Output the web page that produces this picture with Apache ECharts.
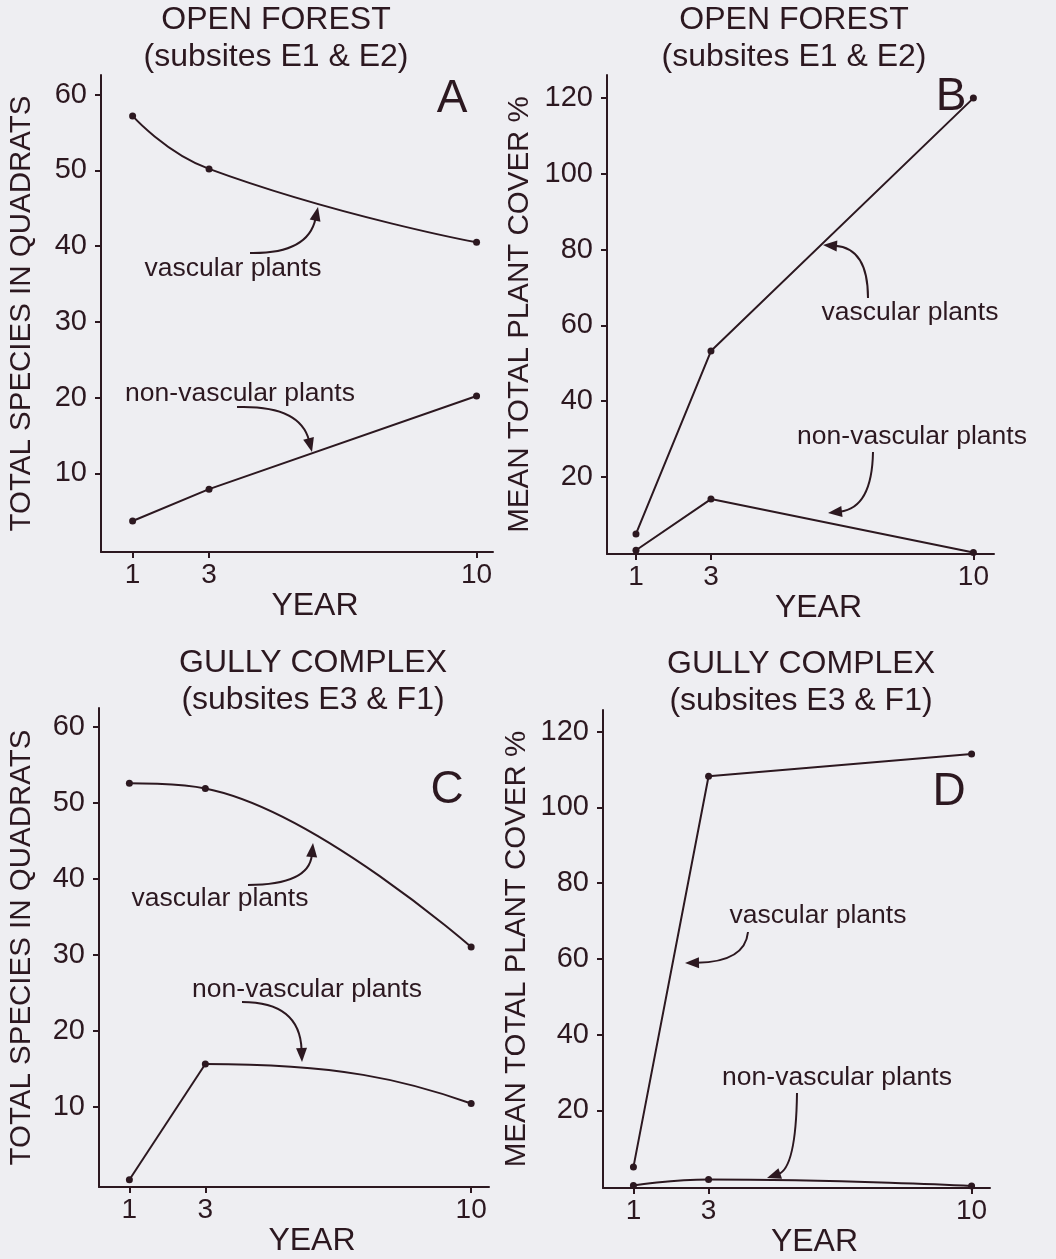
<!DOCTYPE html>
<html><head><meta charset="utf-8">
<script src="https://cdn.jsdelivr.net/npm/echarts@6/dist/echarts.min.js"></script>
<style>html,body{margin:0;padding:0;background:#eeeef2}#c{width:1056px;height:1259px}</style>
</head><body><div id="c"></div>
<script>
// ---- data ----
const years = [1, 3, 10];
const xTicks = [1, 3, 10];
const speciesTicks = [10, 20, 30, 40, 50, 60];
const coverTicks = [20, 40, 60, 80, 100, 120];
const openSpeciesVascular = [57.2, 50.2, 40.5];
const openSpeciesNonVascular = [3.7, 7.9, 20.2];
const openCoverVascular = [4.9, 53.2, 120];
const openCoverNonVascular = [0.6, 14.1, 0];
const gullySpeciesVascular = [52.6, 51.9, 31.0];
const gullySpeciesNonVascular = [0.35, 15.6, 10.4];
const gullyCoverVascular = [5.0, 108.2, 114.1];
const gullyCoverNonVascular = [0.15, 1.7, 0];
const titlesLine1 = ['OPEN FOREST', 'OPEN FOREST', 'GULLY COMPLEX', 'GULLY COMPLEX'];
const titlesLine2 = ['(subsites E1 & E2)', '(subsites E1 & E2)', '(subsites E3 & F1)', '(subsites E3 & F1)'];
const panelLetters = ['A', 'B', 'C', 'D'];
const yNames = ['TOTAL SPECIES IN QUADRATS', 'MEAN TOTAL PLANT COVER %', 'TOTAL SPECIES IN QUADRATS', 'MEAN TOTAL PLANT COVER %'];
const labelVascular = 'vascular plants';
const labelNonVascular = 'non-vascular plants';

// ---- layout / style ----
const INK = '#2c1820';
const FONT = '"Liberation Sans", Arial, Helvetica, sans-serif';
const grids = [
  {left: 101, top: 75, width: 392, height: 477},
  {left: 607, top: 75, width: 387, height: 479},
  {left: 99, top: 708, width: 390, height: 479},
  {left: 603, top: 710, width: 387, height: 481}
];
const xRanges = [[0.173, 10.43], [0.227, 10.55], [0.2, 10.47], [0.19, 10.49]];
const yRanges = [[-0.4, 62.6], [-0.4, 126.1], [-0.6, 62.5], [-0.55, 125.7]];
const yNameGaps = [64, 72, 62, 71];

function xAx(i) {
  return {
    gridIndex: i, type: 'value', min: xRanges[i][0], max: xRanges[i][1],
    name: 'YEAR', nameLocation: 'middle', nameGap: 33,
    nameTextStyle: {fontSize: 32, color: INK, fontFamily: FONT, padding: [0, 0, 0, 36]},
    axisLine: {show: true, onZero: false, lineStyle: {color: INK, width: 2}},
    axisTick: {show: true, customValues: xTicks, length: 6, lineStyle: {color: INK, width: 2}},
    axisLabel: {customValues: xTicks, fontSize: 28, color: INK, fontFamily: FONT, margin: 9},
    splitLine: {show: false}
  };
}
function yAx(i, ticks) {
  return {
    gridIndex: i, type: 'value', min: yRanges[i][0], max: yRanges[i][1],
    name: yNames[i], nameLocation: 'middle', nameGap: yNameGaps[i], nameRotate: 90,
    nameTextStyle: {fontSize: 29.5, color: INK, fontFamily: FONT},
    axisLine: {show: true, onZero: false, lineStyle: {color: INK, width: 2}},
    axisTick: {show: true, customValues: ticks, length: 6, lineStyle: {color: INK, width: 2}},
    axisLabel: {customValues: ticks, fontSize: 29, color: INK, fontFamily: FONT, margin: 14},
    splitLine: {show: false}
  };
}
function ser(i, name, vals, smooth, mono, hideLine) {
  const s = {
    type: 'line', name: name, xAxisIndex: i, yAxisIndex: i,
    data: years.map((y, k) => [y, vals[k]]),
    symbol: 'circle', symbolSize: 7, showSymbol: true,
    lineStyle: {color: INK, width: hideLine ? 0 : 2, opacity: hideLine ? 0 : 1}, itemStyle: {color: INK},
    smooth: smooth || false, animation: false, clip: false, z: 3
  };
  if (mono) s.smoothMonotone = mono;
  return s;
}
// Line with a sharp corner at the middle point and a rounded (flat-start) run to the last point,
// positioned through the axis scale with api.coord.
function cornerCurve(i, vals) {
  return {
    type: 'custom', xAxisIndex: i, yAxisIndex: i, data: [[years[0], vals[0]]], animation: false, z: 2,
    renderItem: function (params, api) {
      const p = years.map((y, k) => api.coord([y, vals[k]]));
      const dx = p[2][0] - p[1][0], dy = p[2][1] - p[1][1];
      return {
        type: 'group', children: [
          {type: 'line', shape: {x1: p[0][0], y1: p[0][1], x2: p[1][0], y2: p[1][1]},
            style: {stroke: INK, lineWidth: 2}},
          {type: 'bezierCurve', shape: {x1: p[1][0], y1: p[1][1], x2: p[2][0], y2: p[2][1],
              cpx1: p[1][0] + 0.5 * dx, cpy1: p[1][1],
              cpx2: p[2][0] - 0.25 * dx, cpy2: p[2][1] - 0.6 * dy},
            style: {stroke: INK, lineWidth: 2, fill: null}}
        ]
      };
    }
  };
}
function txt(x, y, text, size) {
  return {type: 'text', x: x, y: y, z: 10,
    style: {text: text, fill: INK, font: size + 'px ' + FONT,
      align: 'center', verticalAlign: 'middle', textAlign: 'center', textVerticalAlign: 'middle'}};
}
function arrow(x1, y1, cx, cy, x2, y2) {
  const dx = x2 - cx, dy = y2 - cy, L = Math.hypot(dx, dy);
  const ux = dx / L, uy = dy / L, hl = 14, hw = 5.5;
  const bx = x2 - ux * hl, by = y2 - uy * hl;
  return [
    {type: 'bezierCurve', z: 10, shape: {x1: x1, y1: y1, x2: bx + ux * 2, y2: by + uy * 2, cpx1: cx, cpy1: cy},
      style: {stroke: INK, lineWidth: 2, fill: null}},
    {type: 'polygon', z: 10, shape: {points: [[x2, y2], [bx - uy * hw, by + ux * hw], [bx + uy * hw, by - ux * hw]]},
      style: {fill: INK}}
  ];
}

const titlePos = [[276, 20, 57], [794, 20, 57], [313, 663, 700], [801, 664, 701]];
const letterPos = [[452, 99], [951, 97], [447, 790], [949, 792]];
const graphic = [];
for (let i = 0; i < 4; i++) {
  graphic.push(txt(titlePos[i][0], titlePos[i][1], titlesLine1[i], 32));
  graphic.push(txt(titlePos[i][0], titlePos[i][2], titlesLine2[i], 32));
  graphic.push(txt(letterPos[i][0], letterPos[i][1], panelLetters[i], 46));
}
// annotations
graphic.push(txt(233, 269, labelVascular, 26.5));
graphic.push(txt(240, 394, labelNonVascular, 26.5));
graphic.push(txt(910, 313, labelVascular, 26.5));
graphic.push(txt(912, 437, labelNonVascular, 26.5));
graphic.push(txt(220, 899, labelVascular, 26.5));
graphic.push(txt(307, 990, labelNonVascular, 26.5));
graphic.push(txt(818, 916, labelVascular, 26.5));
graphic.push(txt(837, 1078, labelNonVascular, 26.5));
[].push.apply(graphic, arrow(250, 253, 308, 254, 318, 207));
[].push.apply(graphic, arrow(237, 407, 300, 405, 312, 452));
[].push.apply(graphic, arrow(868, 298, 868, 248, 823, 245));
[].push.apply(graphic, arrow(873, 452, 872, 508, 828, 513));
[].push.apply(graphic, arrow(248, 885, 309, 885, 313, 843));
[].push.apply(graphic, arrow(242, 1002, 300, 1002, 302, 1062));
[].push.apply(graphic, arrow(748, 932, 745, 962, 685, 963));
[].push.apply(graphic, arrow(797, 1093, 796, 1168, 767, 1178));

const option = {
  backgroundColor: '#eeeef2',
  animation: false,
  textStyle: {fontFamily: FONT},
  grid: grids.map(g => Object.assign({containLabel: false}, g)),
  xAxis: [xAx(0), xAx(1), xAx(2), xAx(3)],
  yAxis: [yAx(0, speciesTicks), yAx(1, coverTicks), yAx(2, speciesTicks), yAx(3, coverTicks)],
  series: [
    ser(0, 'vascular plants', openSpeciesVascular, 0.5),
    ser(0, 'non-vascular plants', openSpeciesNonVascular, false),
    ser(1, 'vascular plants', openCoverVascular, false),
    ser(1, 'non-vascular plants', openCoverNonVascular, false),
    ser(2, 'vascular plants', gullySpeciesVascular, 0.4),
    ser(2, 'non-vascular plants', gullySpeciesNonVascular, false, null, true),
    cornerCurve(2, gullySpeciesNonVascular),
    ser(3, 'vascular plants', gullyCoverVascular, false),
    ser(3, 'non-vascular plants', gullyCoverNonVascular, 0.5)
  ],
  graphic: graphic
};
const chart = echarts.init(document.getElementById('c'), null, {renderer: 'canvas'});
chart.setOption(option);
</script></body></html>
